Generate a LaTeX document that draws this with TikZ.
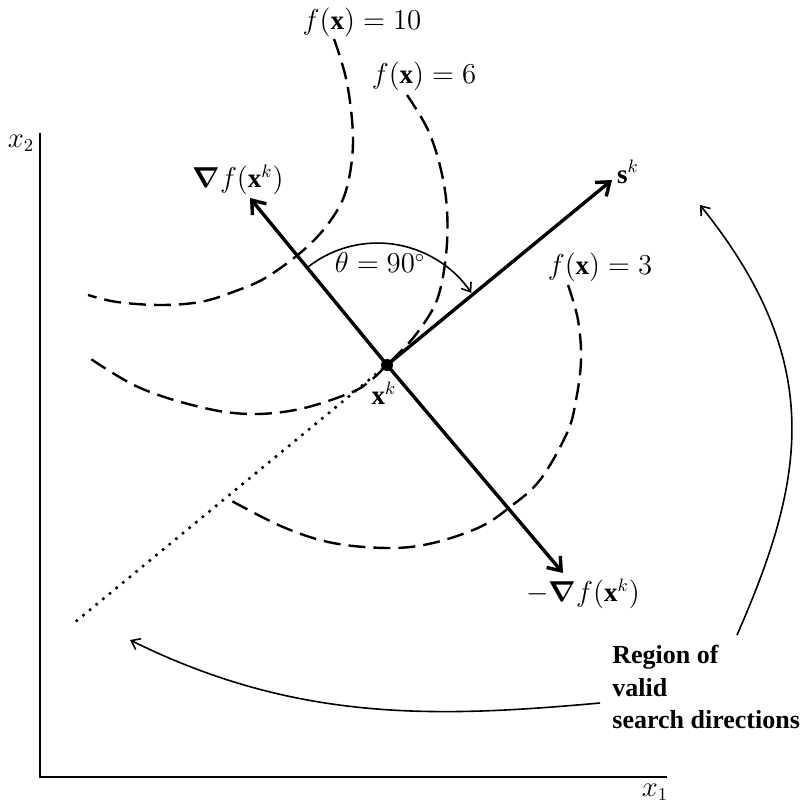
\documentclass[tikz,border=0pt]{standalone}
\usepackage{amsmath}
\usepackage{fontspec}
\setmainfont{Liberation Serif}
\usetikzlibrary{arrows.meta}
\begin{document}
\begin{tikzpicture}[x=0.5pt,y=-0.5pt,
  vec/.style={line width=1.7pt,-{Straight Barb[length=6pt,width=9pt,line width=1.7pt]}},
  thinarc/.style={line width=0.8pt,-{Straight Barb[length=4pt,width=6pt,line width=0.8pt]}},
  contour/.style={line width=1.2pt,dash pattern=on 8.5pt off 4pt},
  dotline/.style={line width=1.8pt,line cap=round,dash pattern=on 0pt off 4.3pt},
  axisline/.style={line width=1.1pt},
  lbl/.style={font=\fontsize{13.5}{15}\selectfont,inner sep=0pt},
]
\useasboundingbox (0,0) rectangle (806,801);

% axes
\coordinate (ay) at (40,133);
\coordinate (ao) at (40,777);
\coordinate (ax) at (667,777);
\draw[axisline] (ay) -- (ao) -- (ax);
\node[lbl] (x2l) at (21,143) {$x_2$};
\node[lbl] (x1l) at (655,792) {$x_1$};

% contours
\draw[contour] plot[smooth,tension=0.6] coordinates {(334,39) (347,83) (353,140) (347,187) (333,217) (307,247) (267,277) (233,292) (200,302) (160,305) (117,302) (88,295)};
\draw[contour] plot[smooth,tension=0.6] coordinates {(407,95) (428,130) (441,170) (447,210) (446,255) (437,300) (417,333) (400,352) (387,365) (370,381) (350,393) (300,409) (250,414) (200,407) (138,387) (85,355)};
\draw[contour] plot[smooth,tension=0.6] coordinates {(568,285) (578,320) (581,360) (576,400) (567,433) (540,480) (510,507) (480,527) (433,543) (390,548) (333,543) (283,527) (230,500)};

\node[lbl] (f10) at (362,22) {$f(\mathbf{x}) = 10$};
\node[lbl] (f6) at (424,76) {$f(\mathbf{x}) = 6$};
\node[lbl] (f3) at (600,267) {$f(\mathbf{x}) = 3$};

% point and vectors
\node[circle,fill,inner sep=0pt,minimum size=6pt] (xk) at (387,365) {};
\coordinate (g) at (250,198);
\coordinate (mg) at (563,573);
\coordinate (s) at (612,180);
\coordinate (dend) at (74,623);
\draw[vec] (xk.center) -- (g);
\draw[vec] (xk.center) -- (mg);
\draw[vec] (xk.center) -- (s);
\draw[dotline] (xk) -- (dend);

\node[lbl] (gl) at (238,180) {$\boldsymbol{\nabla} f(\mathbf{x}^k)$};
\node[lbl] (mgl) at (583,594) {$-\boldsymbol{\nabla} f(\mathbf{x}^k)$};
\node[lbl] (sl) at (628,172) {$\mathbf{s}^k$};
\node[lbl] (xkl) at (384,393) {$\mathbf{x}^k$};

% angle arc
\coordinate (th0) at (308,267);
\draw[thinarc] (th0) arc[start angle=128, end angle=34, radius=56.5pt];
\node[lbl] (th) at (380,263) {$\theta = 90^\circ$};

% region arcs
\coordinate (r1a) at (737,635);
\coordinate (r1b) at (700,205);
\coordinate (r2a) at (600,703);
\coordinate (r2b) at (130,640);
\draw[thinarc] (r1a) .. controls (806,478) and (826,362) .. (r1b);
\draw[thinarc] (r2a) .. controls (434,718) and (296,722) .. (r2b);

\node[align=left,anchor=north west,inner sep=0pt,font=\fontsize{13}{16.3}\selectfont\bfseries] (reg) at (612,645) {Region of\\valid\\search directions};
\end{tikzpicture}
\end{document}
